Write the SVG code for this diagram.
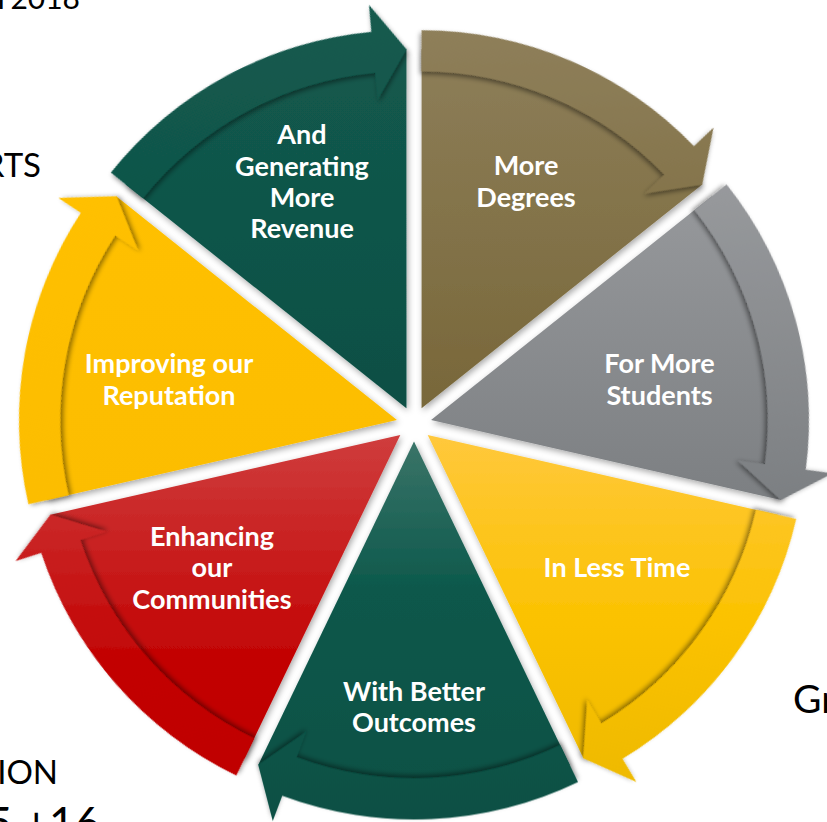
<svg xmlns="http://www.w3.org/2000/svg" width="827" height="822" viewBox="0 0 827 822">
<defs>
  <style>
    .lbl{font-family:Lato,"Open Sans","Liberation Sans",sans-serif;font-weight:700;font-size:27px;fill:#ffffff;text-anchor:middle}
    .bg{font-family:Lato,"Open Sans","Liberation Sans",sans-serif;font-weight:400;fill:#000000}
  </style>
  <filter id="ds" x="-10%" y="-10%" width="120%" height="120%">
    <feDropShadow dx="1.5" dy="2.5" stdDeviation="3" flood-color="#000" flood-opacity="0.35"/>
  </filter>
  <filter id="band" x="-15%" y="-15%" width="130%" height="130%">
    <feGaussianBlur in="SourceAlpha" stdDeviation="2.5" result="b"/>
    <feOffset in="b" dx="-3.5" dy="0" result="o"/>
    <feFlood flood-color="#000" flood-opacity="0.45"/>
    <feComposite in2="o" operator="in" result="s"/>
    <feMerge><feMergeNode in="s"/><feMergeNode in="SourceGraphic"/></feMerge>
  </filter>
  <path id="body" d="M0,0 L323.45,-155.76 A359,359 0 0 1 323.45,155.76 Z"/>
  <path id="arrow" d="M340.57,-164.01 A378,378 0 0 1 354.26,131.84 L379.56,141.26 L323.45,155.76 L290.53,108.12 L315.83,117.54 A337,337 0 0 0 303.63,-146.22 Z"/>
  <linearGradient id="g0" gradientUnits="userSpaceOnUse" x1="0" y1="-378" x2="0" y2="0" gradientTransform="rotate(115.714)">
    <stop offset="0" stop-color="#135a4e"/><stop offset="1" stop-color="#0d4f44"/>
  </linearGradient>
  <linearGradient id="g1" gradientUnits="userSpaceOnUse" x1="0" y1="-378" x2="0" y2="0" gradientTransform="rotate(64.286)">
    <stop offset="0" stop-color="#8e7f5a"/><stop offset="1" stop-color="#786739"/>
  </linearGradient>
  <linearGradient id="g2" gradientUnits="userSpaceOnUse" x1="0" y1="-236" x2="0" y2="84" gradientTransform="rotate(12.857)">
    <stop offset="0" stop-color="#97999c"/><stop offset="1" stop-color="#7c7f82"/>
  </linearGradient>
  <linearGradient id="g3" gradientUnits="userSpaceOnUse" x1="0" y1="0" x2="0" y2="378" gradientTransform="rotate(-38.571)">
    <stop offset="0" stop-color="#ffc83c"/><stop offset="0.5" stop-color="#fbc200"/><stop offset="1" stop-color="#ecb800"/>
  </linearGradient>
  <linearGradient id="g4" gradientUnits="userSpaceOnUse" x1="0" y1="0" x2="0" y2="378" gradientTransform="rotate(-90)">
    <stop offset="0" stop-color="#3a7468"/><stop offset="0.4" stop-color="#0c584b"/><stop offset="1" stop-color="#0a5044"/>
  </linearGradient>
  <linearGradient id="g5" gradientUnits="userSpaceOnUse" x1="0" y1="0" x2="0" y2="378" gradientTransform="rotate(-141.429)">
    <stop offset="0" stop-color="#cf3d3d"/><stop offset="0.6" stop-color="#c20303"/><stop offset="1" stop-color="#bf0000"/>
  </linearGradient>
  <linearGradient id="g6" gradientUnits="userSpaceOnUse" x1="0" y1="-236" x2="0" y2="84" gradientTransform="rotate(-192.857)">
    <stop offset="0" stop-color="#ffc000"/><stop offset="1" stop-color="#fcbd00"/>
  </linearGradient>
</defs>
<rect x="0" y="0" width="827" height="822" fill="#ffffff"/>

<g id="background-text">
  <text class="bg" x="80" y="9" font-size="30" text-anchor="end">Y2018</text>
  <text class="bg" x="41" y="177" font-size="33" text-anchor="end">RTS</text>
  <text class="bg" x="58" y="784" font-size="33" text-anchor="end">ION</text>
  <text class="bg" x="100" y="839" font-size="44" text-anchor="end">5 +16</text>
  <text class="bg" x="793" y="713" font-size="39">Gr</text>
</g>

<g id="nodes">
  <g id="node-revenue">
    <g filter="url(#ds)"><use href="#body" transform="translate(406.41,408.23) rotate(-115.714)" fill="url(#g0)"/></g>
    <text class="lbl" x="302" y="144">And</text>
    <text class="lbl" x="302" y="175.5">Generating</text>
    <text class="lbl" x="302" y="207">More</text>
    <text class="lbl" x="302" y="238">Revenue</text>
  </g>
  <g id="node-degrees">
    <g filter="url(#ds)"><use href="#body" transform="translate(421.59,408.23) rotate(-64.286)" fill="url(#g1)"/></g>
    <text class="lbl" x="526" y="175">More</text>
    <text class="lbl" x="526" y="207">Degrees</text>
  </g>
  <g id="node-students">
    <g filter="url(#ds)"><use href="#body" transform="translate(431.06,420.11) rotate(-12.857)" fill="url(#g2)"/></g>
    <text class="lbl" x="659.5" y="373">For More</text>
    <text class="lbl" x="659.5" y="405">Students</text>
  </g>
  <g id="node-time">
    <g filter="url(#ds)"><use href="#body" transform="translate(427.68,434.91) rotate(38.571)" fill="url(#g3)"/></g>
    <text class="lbl" x="617" y="577">In Less Time</text>
  </g>
  <g id="node-outcomes">
    <g filter="url(#ds)"><use href="#body" transform="translate(414,441.5) rotate(90)" fill="url(#g4)"/></g>
    <text class="lbl" x="414" y="701">With Better</text>
    <text class="lbl" x="414" y="732">Outcomes</text>
  </g>
  <g id="node-communities">
    <g filter="url(#ds)"><use href="#body" transform="translate(400.32,434.91) rotate(141.429)" fill="url(#g5)"/></g>
    <text class="lbl" x="212" y="546">Enhancing</text>
    <text class="lbl" x="212" y="577">our</text>
    <text class="lbl" x="212" y="609">Communities</text>
  </g>
  <g id="node-reputation">
    <g filter="url(#ds)"><use href="#body" transform="translate(396.94,420.11) rotate(192.857)" fill="url(#g6)"/></g>
    <text class="lbl" x="169" y="373">Improving our</text>
    <text class="lbl" x="169" y="405">Reputation</text>
  </g>
</g>

<g id="connectors">
  <use href="#arrow" transform="translate(406.41,408.23) rotate(-115.714)" fill="url(#g0)" filter="url(#band)"/>
  <use href="#arrow" transform="translate(421.59,408.23) rotate(-64.286)" fill="url(#g1)" filter="url(#band)"/>
  <use href="#arrow" transform="translate(431.06,420.11) rotate(-12.857)" fill="url(#g2)" filter="url(#band)"/>
  <use href="#arrow" transform="translate(427.68,434.91) rotate(38.571)" fill="url(#g3)" filter="url(#band)"/>
  <use href="#arrow" transform="translate(414,441.5) rotate(90)" fill="url(#g4)" filter="url(#band)"/>
  <use href="#arrow" transform="translate(400.32,434.91) rotate(141.429)" fill="url(#g5)" filter="url(#band)"/>
  <use href="#arrow" transform="translate(396.94,420.11) rotate(192.857)" fill="url(#g6)" filter="url(#band)"/>
</g>
</svg>
